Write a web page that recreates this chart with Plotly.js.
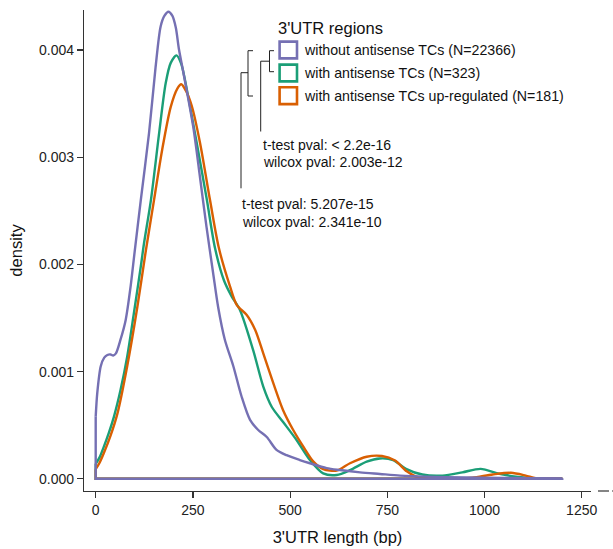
<!DOCTYPE html>
<html>
<head>
<meta charset="utf-8">
<script src="https://cdn.plot.ly/plotly-3.0.1.min.js"></script>
<style>html,body{margin:0;padding:0;background:#fff;}#chart{width:613px;height:549px;}</style>
</head>
<body>
<div id="chart"></div>
<script>
// ---- data ----
const seriesNames = ["without antisense TCs (N=22366)", "with antisense TCs (N=323)", "with antisense TCs up-regulated (N=181)"];
const seriesColors = ["#7570B3", "#1B9E77", "#D95F02"];

const purpleX = [0, 4, 13, 22, 30, 38, 45, 52, 64, 77, 90, 98, 116, 137, 154, 167, 177, 187, 197, 206, 214, 225, 251, 268, 285, 302, 315, 332, 354, 375, 397, 418, 440, 465, 491, 525, 551, 594, 628, 680, 731, 783, 850, 950, 1050, 1200];
const purpleY = [0.00058, 0.0008, 0.00105, 0.00113, 0.001155, 0.00116, 0.00115, 0.00117, 0.0013, 0.00148, 0.0018, 0.00205, 0.0026, 0.00322, 0.00384, 0.00422, 0.00432, 0.004357, 0.00432, 0.00421, 0.00401, 0.0038, 0.00328, 0.00282, 0.00235, 0.00192, 0.0016, 0.0013, 0.00105, 0.00077, 0.00055, 0.000455, 0.00039, 0.00027, 0.00022, 0.000175, 0.000145, 0.0001, 0.000082, 0.00006, 0.000045, 0.00003, 0.00002, 0.000012, 0.000008, 0.000004];

const greenX = [0, 10, 21, 34, 47, 64, 81, 98, 116, 124, 142, 163, 180, 193, 208, 220, 236, 260, 286, 307, 330, 350, 371, 405, 431, 453, 482, 517, 551, 585, 620, 654, 697, 731, 765, 798, 840, 892, 943, 990, 1038, 1081, 1123, 1160, 1200];
const greenY = [0.00014, 0.0002, 0.0003, 0.00043, 0.00058, 0.00083, 0.00114, 0.00154, 0.00198, 0.00219, 0.0026, 0.00322, 0.00369, 0.00388, 0.00395, 0.00387, 0.0036, 0.00313, 0.0026, 0.00215, 0.00185, 0.0017, 0.001575, 0.0012, 0.00086, 0.00067, 0.00053, 0.00036, 0.000175, 0.00005, 0.000035, 0.00008, 0.00016, 0.00019, 0.000175, 0.000093, 0.00004, 0.00003, 0.00006, 0.000093, 0.000047, 0.00002, 0.000006, 0.000002, 0];

const orangeX = [0, 10, 21, 38, 56, 81, 107, 129, 150, 171, 193, 210, 220, 232, 247, 268, 294, 317, 345, 363, 388, 410, 431, 457, 482, 508, 534, 560, 585, 620, 654, 697, 736, 770, 800, 832, 884, 930, 969, 1021, 1068, 1106, 1132, 1170, 1200];
const orangeY = [0.00009, 0.00015, 0.00024, 0.0004, 0.00061, 0.00105, 0.0016, 0.00213, 0.0026, 0.00307, 0.00347, 0.00364, 0.00368, 0.00362, 0.00348, 0.00314, 0.0026, 0.00215, 0.0018, 0.00162, 0.00153, 0.00139, 0.00117, 0.00089, 0.00064, 0.000455, 0.0003, 0.00016, 0.00009, 0.000076, 0.000145, 0.000206, 0.000213, 0.00017, 0.00007, 0.00001, 0.000003, 0.000003, 0.00001, 0.00004, 0.000056, 0.00003, 0.000006, 0.000001, 0];

const xTicks = [0, 250, 500, 750, 1000, 1250];
const yTicks = [0, 0.001, 0.002, 0.003, 0.004];
const yTickText = ["0.000", "0.001", "0.002", "0.003", "0.004"];
const legendTitle = "3'UTR regions";
const testLines1 = ["t-test pval: < 2.2e-16", "wilcox pval: 2.003e-12"];
const testLines2 = ["t-test pval: 5.207e-15", "wilcox pval: 2.341e-10"];

// ---- layout helpers ----
const W = 613, H = 549;
const M = {l: 84, r: 22, t: 10, b: 58};
const PW = W - M.l - M.r, PH = H - M.t - M.b;
const X = px => (px - M.l) / PW;
const Y = py => (H - M.b - py) / PH;
const FONT = "'Liberation Sans', Arial, Helvetica, sans-serif";

const allX = [purpleX, greenX, orangeX];
const allY = [purpleY, greenY, orangeY];
const order = [1, 2, 0]; // draw green, orange, then purple on top

const traces = [];
order.forEach(i => {
  const xs = allX[i], ys = allY[i];
  const n = xs.length;
  // density polygon outline: vertical at start, baseline, vertical at end
  traces.push({
    x: [xs[0], xs[0], xs[n - 1], xs[n - 1]],
    y: [ys[0], 0, 0, ys[n - 1]],
    mode: "lines", type: "scatter", showlegend: false, hoverinfo: "skip",
    line: {color: seriesColors[i], width: 2.4}
  });
  traces.push({
    x: xs, y: ys, name: seriesNames[i],
    mode: "lines", type: "scatter", showlegend: false,
    line: {color: seriesColors[i], width: 2.4, shape: "spline", smoothing: 0.8}
  });
});

const shapes = [];
const annotations = [];
const lineStyle = {color: "#222", width: 1};
function seg(x0, y0, x1, y1, style) {
  shapes.push({type: "line", xref: "paper", yref: "paper", x0: X(x0), y0: Y(y0), x1: X(x1), y1: Y(y1), line: style || lineStyle});
}

// legend (manual, outlined squares)
annotations.push({xref: "paper", yref: "paper", x: X(275.5), y: Y(28), xanchor: "left", yanchor: "middle",
  text: legendTitle, showarrow: false, font: {family: FONT, size: 16.5, color: "#111"}});
const rowY = [50, 73, 95.7];
seriesNames.forEach((nm, i) => {
  shapes.push({type: "rect", xref: "paper", yref: "paper", x0: X(279.6), x1: X(297), y0: Y(rowY[i] - 8.4), y1: Y(rowY[i] + 8.4),
    line: {color: seriesColors[i], width: 2.6}, fillcolor: "#fff"});
  annotations.push({xref: "paper", yref: "paper", x: X(302), y: Y(rowY[i]), xanchor: "left", yanchor: "middle",
    text: nm, showarrow: false, font: {family: FONT, size: 14.2, color: "#111"}});
});

// significance brackets
seg(269.5, 50.7, 269.5, 71.7); seg(269.5, 50.7, 274, 50.7); seg(269.5, 71.7, 274, 71.7);
seg(260.7, 61.2, 269.5, 61.2); seg(260.7, 61.2, 260.7, 131.5);
seg(248, 50.7, 248, 96); seg(248, 50.7, 253, 50.7); seg(248, 96, 253, 96);
seg(241, 72.7, 248, 72.7); seg(241, 72.7, 241, 188.3);

[[testLines1, 260.5, [145, 161.7]], [testLines2, 240, [204.3, 221.7]]].forEach(([lines, x0, ys]) => {
  lines.forEach((t, k) => annotations.push({xref: "paper", yref: "paper", x: X(x0), y: Y(ys[k]), xanchor: "left", yanchor: "middle",
    text: t, showarrow: false, font: {family: FONT, size: 14, color: "#111"}}));
});

// broken continuation of the x axis line beyond the plot
seg(598, 491, 609, 491, {color: "#333", width: 1.2});
seg(612, 491, 616, 491, {color: "#333", width: 1.2});

const pxPerX = 0.3888, x0px = 95.7, pxPerY = 107200, y0px = 478.8;
const layout = {
  width: W, height: H,
  margin: M,
  paper_bgcolor: "#fff", plot_bgcolor: "#fff",
  showlegend: false, hovermode: false,
  font: {family: FONT, color: "#222"},
  xaxis: {
    range: [(M.l - x0px) / pxPerX, (W - M.r - x0px) / pxPerX],
    tickvals: xTicks, ticks: "outside", ticklen: 6, tickwidth: 1.2, tickcolor: "#333",
    showline: true, linecolor: "#333", linewidth: 1.2, showgrid: false, zeroline: false,
    tickfont: {family: FONT, size: 14, color: "#222"},
    title: {text: "3'UTR length (bp)", font: {family: FONT, size: 16.5, color: "#111"}, standoff: 14},
    automargin: false
  },
  yaxis: {
    range: [(y0px - (H - M.b)) / pxPerY, (y0px - M.t) / pxPerY],
    tickvals: yTicks, ticktext: yTickText, ticks: "outside", ticklen: 6, tickwidth: 1.2, tickcolor: "#333",
    showline: true, linecolor: "#333", linewidth: 1.2, showgrid: false, zeroline: false,
    tickfont: {family: FONT, size: 14, color: "#222"},
    title: {text: "density", font: {family: FONT, size: 16.5, color: "#111"}, standoff: 12},
    automargin: false
  },
  shapes: shapes,
  annotations: annotations
};

Plotly.newPlot("chart", traces, layout, {staticPlot: true, displayModeBar: false});
</script>
</body>
</html>
